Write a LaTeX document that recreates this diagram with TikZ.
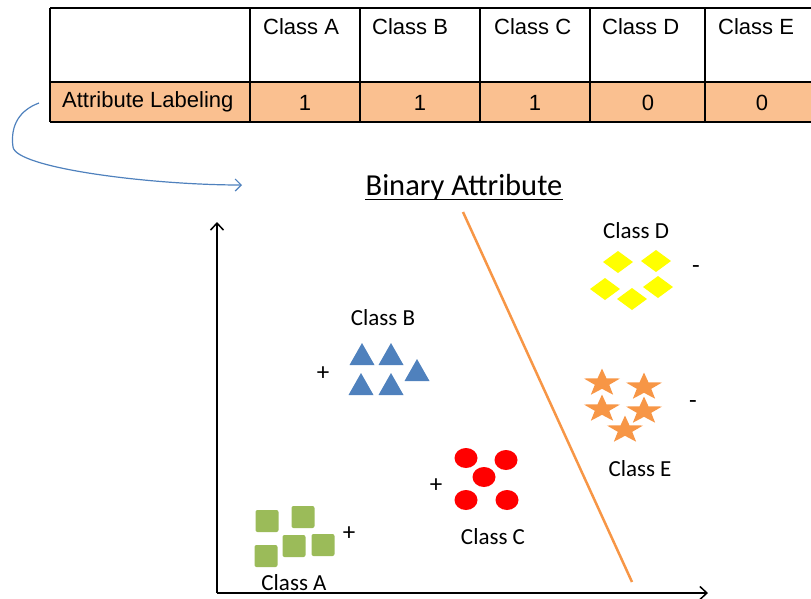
\documentclass[tikz,border=0pt]{standalone}
\usepackage{fontspec}
\setmainfont{Carlito}
\newfontfamily\arialfont{Liberation Sans}
\usetikzlibrary{arrows.meta}
\definecolor{cellorange}{HTML}{FAC090}
\definecolor{linkblue}{HTML}{4F81BD}
\definecolor{sepline}{HTML}{F79646}
\definecolor{sqgreen}{HTML}{9BBB59}
\definecolor{triblue}{HTML}{4F81BD}
\definecolor{dotred}{HTML}{FF0000}
\definecolor{diayellow}{HTML}{FFFF00}
\definecolor{starorange}{HTML}{F79646}
\begin{document}
\begin{tikzpicture}[x=1pt,y=-1pt,
  tableline/.style={line width=1.5pt, black},
  celltext/.style={font=\arialfont\fontsize{22}{26}\selectfont, inner sep=0pt},
  classlabel/.style={font=\fontsize{23}{27}\selectfont, inner sep=0pt},
  signlabel/.style={font=\fontsize{25}{29}\selectfont, inner sep=0pt},
  axisline/.style={line width=1.5pt, black, -{Straight Barb[length=7pt,width=13pt]}},
  sq/.pic={\fill[sqgreen, rounded corners=2pt] (-11.5,-11) rectangle (11.5,11);},
  tri/.pic={\fill[triblue] (-12.5,11) -- (0,-11) -- (12.5,11) -- cycle;},
  dot/.pic={\fill[dotred] (0,0) ellipse [x radius=11.5, y radius=10];},
  dia/.pic={\fill[diayellow] (-15,0) -- (0,-11) -- (15,0) -- (0,11) -- cycle;},
  starmark/.pic={\fill[starorange] (0,-14.5) \foreach \i in {1,...,9} {
      -- ({(19-11.4*mod(\i,2))*cos(-90+36*\i)}, {(14.5-8.7*mod(\i,2))*sin(-90+36*\i)})
    } -- cycle;}
]
\useasboundingbox (0,0) rectangle (811,598);
\clip (0,0) rectangle (811,598);

% ---- attribute table ----
\fill[cellorange] (50,82) rectangle (825,122);
\draw[tableline] (50,8) -- (825,8);
\draw[tableline] (50,82) -- (825,82);
\draw[line width=2pt] (50,122) -- (825,122);
\foreach \x in {50,250,360,480,590,705}
  \draw[tableline] (\x,8) -- (\x,122);

\node[celltext, anchor=west] (hA) at (263,27) {Class A};
\node[celltext, anchor=west] (hB) at (372,27) {Class B};
\node[celltext, anchor=west] (hC) at (494,27) {Class C};
\node[celltext, anchor=west] (hD) at (602,27) {Class D};
\node[celltext, anchor=west] (hE) at (718,27) {Class E};

\node[celltext, anchor=west] (rowlbl) at (62,102) {Attribute Labeling};
\node[celltext] (vA) at (305,103) {1};
\node[celltext] (vB) at (420,103) {1};
\node[celltext] (vC) at (535,103) {1};
\node[celltext] (vD) at (648,103) {0};
\node[celltext] (vE) at (762,103) {0};

% ---- title and link from the table ----
\node[font=\fontsize{30.5}{36}\selectfont, inner sep=0pt] (title) at (464,187) {Binary Attribute};
\draw[line width=1.2pt] ([yshift=-4pt]title.base west) -- ([yshift=-4pt]title.base east);

\coordinate (linkstart) at (39,103);
\coordinate (linkend) at (242,185);
\draw[linkblue, line width=1.2pt, -{Straight Barb[length=6pt,width=12pt]}]
  (linkstart) .. controls (20,110) and (10,125) .. (13,147)
  .. controls (16,168) and (150,185) .. (linkend);

% ---- axes ----
\coordinate (origin) at (217,593);
\coordinate (ytip) at (217,222);
\coordinate (xtip) at (708,593);
\draw[axisline] (origin) -- (ytip);
\draw[axisline] (origin) -- (xtip);

% ---- separating line ----
\coordinate (septop) at (463,212);
\coordinate (sepbot) at (632,582);
\draw[sepline, line width=2.5pt] (septop) -- (sepbot);

% ---- class A: squares ----
\foreach \p in {(267,521),(303,517),(294,546),(323,545),(266,556)}
  \pic at \p {sq};
\node[signlabel] (plusA) at (349,534) {+};
\node[classlabel] (lblA) at (294,583) {Class A};

% ---- class B: triangles ----
\foreach \p in {(362,354),(391,354),(417,370),(361,384),(391,384)}
  \pic at \p {tri};
\node[signlabel] (plusB) at (323,374) {+};
\node[classlabel] (lblB) at (383,318) {Class B};

% ---- class C: discs ----
\foreach \p in {(466,458),(506,460),(484,477),(466,500),(507,500)}
  \pic at \p {dot};
\node[signlabel] (plusC) at (436,486) {+};
\node[classlabel] (lblC) at (493,537) {Class C};

% ---- class D: diamonds ----
\foreach \p in {(618,262),(656,261),(605,289),(658,287),(632,299)}
  \pic at \p {dia};
\node[signlabel] (minusD) at (696,270) {-};
\node[classlabel] (lblD) at (636,231) {Class D};

% ---- class E: stars ----
\foreach \p in {(602,383),(644,387),(602,409),(644,411),(625,430)}
  \pic at \p {starmark};
\node[signlabel] (minusE) at (693,405) {-};
\node[classlabel] (lblE) at (640,469) {Class E};
\end{tikzpicture}
\end{document}
